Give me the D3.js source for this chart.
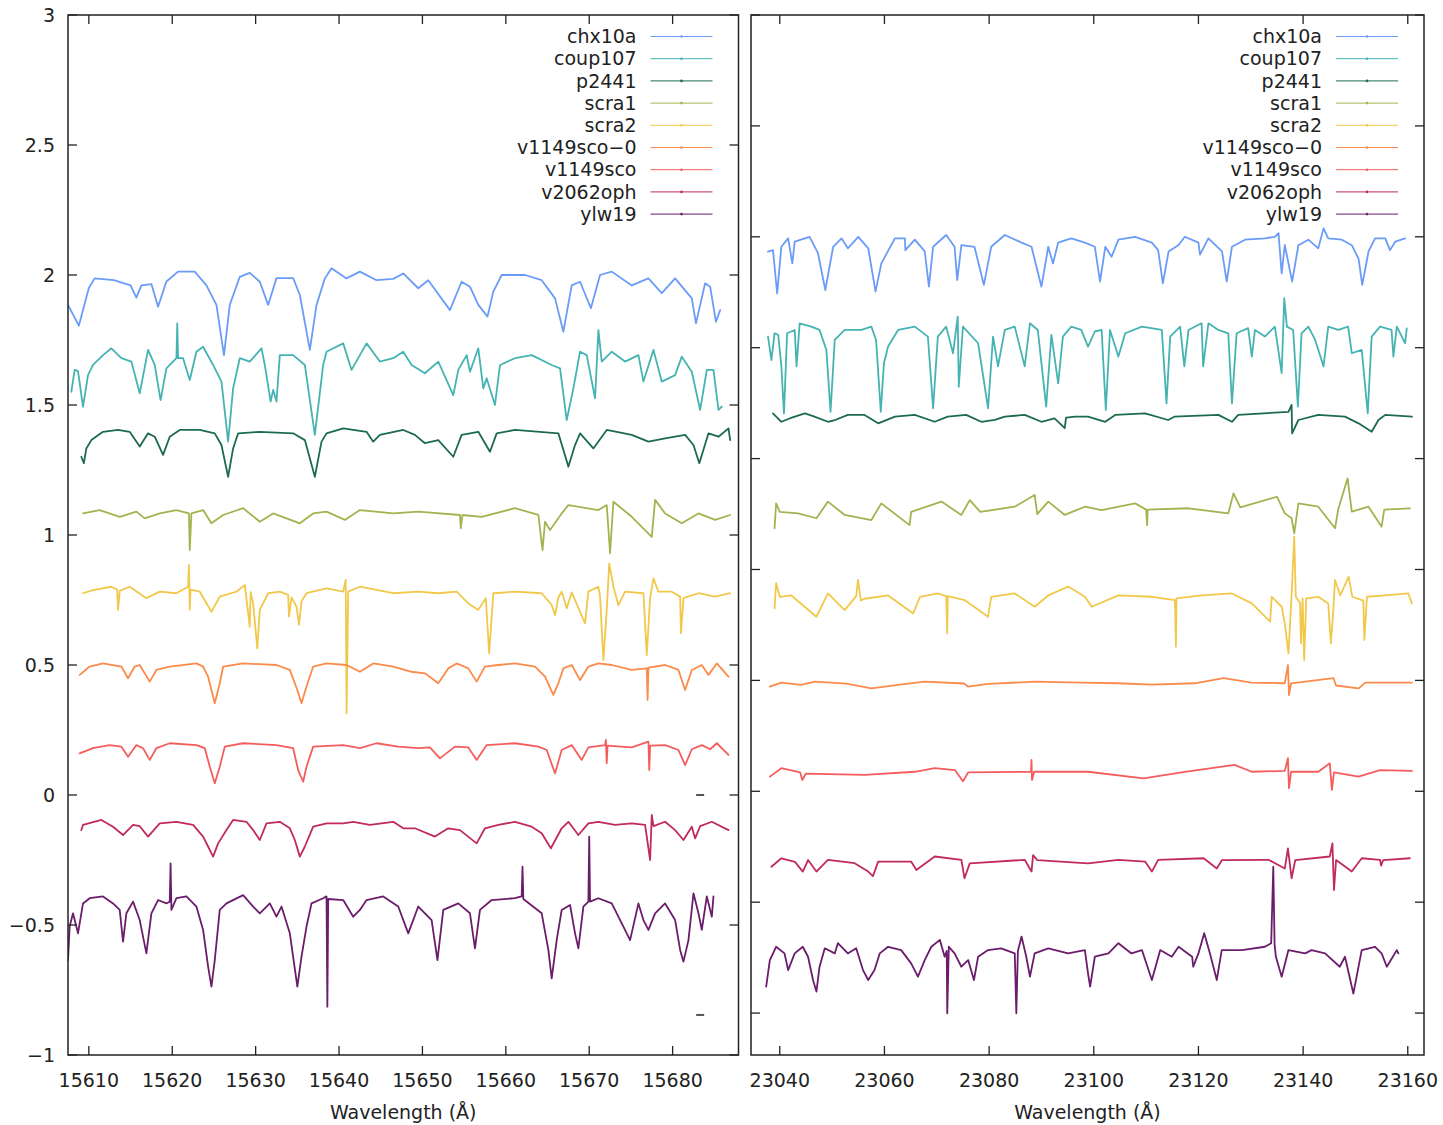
<!DOCTYPE html>
<html>
<head>
<meta charset="utf-8">
<script src="https://cdn.jsdelivr.net/npm/d3@7"></script>
<style>
  body { margin: 0; background: #fff; }
  text { font-family: "DejaVu Sans", sans-serif; fill: #222; }
</style>
</head>
<body>
<script>
(function () {
"use strict";

////////////////////////////////////////////////////////////////////////////////
// Data: normalized spectra with vertical offsets, [wavelength (A), flux]
////////////////////////////////////////////////////////////////////////////////

var starNames = ["chx10a", "coup107", "p2441", "scra1", "scra2",
                 "v1149sco-0", "v1149sco", "v2062oph", "ylw19"];

var starColors = ["#6a9cf7", "#46b3b3", "#1d6b4e", "#a0b550", "#f2c84b",
                  "#fb8b4a", "#f55d5d", "#c02a5c", "#6b1c6b"];

var leftXTicks = [15610, 15620, 15630, 15640, 15650, 15660, 15670, 15680];
var rightXTicks = [23040, 23060, 23080, 23100, 23120, 23140, 23160];
var leftYTicks = [-1, -0.5, 0, 0.5, 1, 1.5, 2, 2.5, 3];
var rightYTicks = [-1, -0.5, 0, 0.5, 1, 1.5, 2, 2.5, 3, 3.5];

// H band panel
var hChx10a = [[15607.5,1.885],[15608.8,1.805],[15610.0,1.95],[15610.7,1.987],[15613,1.98],[15615.0,1.96],[15615.7,1.913],[15616.3,1.96],[15617.5,1.965],[15618.3,1.878],[15619.3,1.975],[15620.7,2.013],[15622.7,2.013],[15624.1,1.96],[15625.3,1.885],[15626.2,1.692],[15626.9,1.885],[15628.1,1.993],[15629.3,2.008],[15630.5,1.974],[15631.5,1.885],[15632.5,1.988],[15634.5,1.988],[15635.3,1.923],[15636.5,1.712],[15637.3,1.885],[15638.3,1.987],[15639.1,2.026],[15640.9,1.987],[15642.5,2.013],[15644.5,1.98],[15646.5,1.985],[15647.7,2.006],[15649.5,1.949],[15650.7,1.98],[15653.3,1.865],[15654.7,1.974],[15655.7,1.955],[15656.7,1.885],[15657.8,1.84],[15658.5,1.936],[15659.5,2.0],[15662.3,2.0],[15664.3,1.98],[15665.9,1.91],[15666.9,1.782],[15667.9,1.96],[15668.9,1.974],[15670.2,1.872],[15671.3,2.0],[15672.7,2.013],[15675.1,1.96],[15677.1,1.987],[15678.7,1.93],[15680.3,1.987],[15682.3,1.91],[15682.8,1.814],[15683.9,1.968],[15684.5,1.955],[15685.2,1.82],[15685.7,1.865]];
var hCoup107 = [[15607.9,1.551],[15608.3,1.635],[15608.7,1.63],[15609.3,1.493],[15609.9,1.615],[15610.5,1.654],[15611.7,1.692],[15612.7,1.718],[15613.9,1.68],[15615.1,1.667],[15616.1,1.545],[15617.1,1.712],[15617.9,1.654],[15618.6,1.519],[15619.3,1.641],[15620.5,1.68],[15620.6,1.814],[15620.7,1.68],[15621.3,1.68],[15622.1,1.596],[15622.9,1.705],[15623.7,1.724],[15624.9,1.654],[15625.9,1.59],[15626.7,1.359],[15627.3,1.564],[15628.1,1.68],[15629.3,1.667],[15630.7,1.718],[15631.1,1.654],[15631.8,1.513],[15632.1,1.558],[15632.5,1.513],[15632.9,1.692],[15634.5,1.692],[15635.9,1.654],[15637.1,1.385],[15638.1,1.654],[15638.5,1.705],[15640.5,1.737],[15641.5,1.635],[15642.5,1.692],[15643.3,1.737],[15644.9,1.667],[15646.5,1.68],[15647.7,1.705],[15648.7,1.654],[15650.3,1.622],[15651.9,1.667],[15653.7,1.538],[15654.3,1.635],[15655.3,1.692],[15655.7,1.628],[15656.7,1.718],[15657.3,1.564],[15657.7,1.603],[15658.7,1.5],[15659.3,1.654],[15661.1,1.68],[15663.1,1.692],[15665.5,1.654],[15666.5,1.641],[15667.3,1.442],[15668.1,1.564],[15668.9,1.705],[15669.7,1.692],[15670.7,1.526],[15671.1,1.788],[15671.5,1.667],[15672.7,1.705],[15674.3,1.667],[15675.9,1.692],[15676.5,1.59],[15677.7,1.712],[15678.7,1.59],[15680.3,1.615],[15681.1,1.686],[15682.3,1.628],[15683.3,1.481],[15684.1,1.635],[15684.9,1.635],[15685.5,1.481],[15685.9,1.494]];
var hP2441 = [[15609.1,1.301],[15609.4,1.276],[15609.7,1.333],[15610.3,1.365],[15611.7,1.397],[15613.5,1.404],[15614.9,1.397],[15616.1,1.34],[15617.1,1.391],[15617.9,1.378],[15618.9,1.308],[15619.7,1.378],[15620.9,1.404],[15623.3,1.404],[15625.1,1.391],[15625.9,1.346],[15626.7,1.224],[15627.3,1.333],[15627.9,1.391],[15630.5,1.397],[15634.5,1.391],[15635.9,1.365],[15637.1,1.224],[15637.9,1.359],[15638.5,1.391],[15640.5,1.41],[15643.3,1.397],[15644.1,1.359],[15644.9,1.385],[15647.7,1.404],[15649.1,1.385],[15650.3,1.353],[15651.9,1.365],[15653.7,1.301],[15654.7,1.385],[15656.7,1.397],[15658.1,1.32],[15658.9,1.391],[15661.1,1.404],[15666.3,1.391],[15667.5,1.263],[15668.3,1.346],[15668.9,1.391],[15670.5,1.333],[15672.1,1.404],[15675.1,1.385],[15677.1,1.359],[15679.1,1.372],[15681.5,1.385],[15682.5,1.346],[15683.2,1.276],[15684.3,1.391],[15685.5,1.378],[15686.7,1.41],[15686.9,1.365]];
var hScra1 = [[15609.3,1.083],[15611.3,1.096],[15613.7,1.07],[15615.7,1.09],[15616.7,1.064],[15618.5,1.083],[15620.5,1.096],[15622.0,1.083],[15622.1,0.942],[15622.3,1.083],[15623.7,1.096],[15624.7,1.045],[15626.1,1.077],[15628.5,1.103],[15630.5,1.051],[15632.1,1.083],[15635.3,1.045],[15636.9,1.083],[15638.5,1.09],[15640.7,1.058],[15642.5,1.096],[15646.5,1.083],[15649.5,1.09],[15654.5,1.077],[15654.6,1.026],[15654.8,1.077],[15657.1,1.07],[15661.1,1.103],[15663.9,1.077],[15664.4,0.942],[15664.7,1.051],[15665.3,1.019],[15666.7,1.083],[15667.5,1.115],[15671.1,1.096],[15672.1,1.115],[15672.5,0.93],[15672.9,1.128],[15675.1,1.07],[15677.5,0.993],[15677.9,1.135],[15679.1,1.083],[15681.1,1.045],[15683.1,1.083],[15685.1,1.058],[15686.9,1.077]];
var hScra2 = [[15609.3,0.776],[15610.5,0.788],[15612.7,0.801],[15613.4,0.79],[15613.5,0.712],[15613.7,0.785],[15614.9,0.801],[15616.9,0.757],[15618.5,0.782],[15620.5,0.776],[15621.9,0.801],[15622.0,0.885],[15622.1,0.712],[15622.2,0.79],[15623.3,0.782],[15624.7,0.705],[15625.7,0.763],[15627.7,0.782],[15628.7,0.808],[15629.3,0.647],[15629.4,0.78],[15629.7,0.737],[15630.2,0.564],[15630.5,0.712],[15631.5,0.776],[15632.9,0.782],[15633.9,0.77],[15634.0,0.686],[15634.3,0.76],[15634.9,0.724],[15635.2,0.654],[15635.5,0.745],[15636.1,0.776],[15638.5,0.795],[15640.5,0.782],[15640.8,0.827],[15640.9,0.314],[15641.1,0.782],[15642.5,0.801],[15646.5,0.776],[15649.5,0.782],[15651.9,0.776],[15654.1,0.782],[15655.5,0.737],[15656.7,0.712],[15657.6,0.757],[15658.0,0.545],[15658.5,0.776],[15661.1,0.782],[15664.3,0.776],[15665.5,0.731],[15665.9,0.692],[15666.3,0.76],[15666.7,0.782],[15667.3,0.718],[15667.9,0.779],[15669.5,0.66],[15669.9,0.782],[15671.1,0.801],[15671.3,0.763],[15671.7,0.519],[15672.1,0.712],[15672.4,0.891],[15672.9,0.801],[15673.5,0.73],[15674.3,0.782],[15676.5,0.776],[15676.9,0.538],[15677.3,0.757],[15677.7,0.833],[15678.3,0.782],[15679.9,0.782],[15680.9,0.763],[15681.0,0.622],[15681.3,0.757],[15683.1,0.776],[15685.1,0.763],[15686.9,0.776]];
var hV1149sco0 = [[15608.9,0.462],[15610.1,0.494],[15611.7,0.506],[15613.9,0.494],[15614.7,0.449],[15615.5,0.494],[15616.1,0.5],[15617.3,0.436],[15618.1,0.481],[15619.7,0.494],[15622.9,0.506],[15623.7,0.494],[15624.3,0.455],[15624.7,0.404],[15625.1,0.353],[15625.7,0.43],[15626.1,0.494],[15628.5,0.506],[15632.5,0.5],[15634.1,0.481],[15635.0,0.404],[15635.5,0.353],[15636.1,0.417],[15636.9,0.494],[15638.5,0.506],[15640.9,0.5],[15642.5,0.474],[15644.1,0.506],[15646.5,0.494],[15648.7,0.474],[15650.3,0.468],[15651.9,0.43],[15653.1,0.487],[15654.1,0.506],[15655.5,0.487],[15656.5,0.436],[15657.5,0.494],[15659.1,0.5],[15661.1,0.506],[15663.5,0.494],[15664.7,0.455],[15665.7,0.385],[15666.3,0.43],[15666.9,0.487],[15667.9,0.5],[15668.9,0.442],[15669.9,0.494],[15671.1,0.506],[15672.7,0.5],[15675.1,0.481],[15676.9,0.487],[15677.0,0.365],[15677.1,0.49],[15679.1,0.5],[15680.7,0.481],[15681.5,0.404],[15682.3,0.481],[15683.5,0.5],[15684.3,0.462],[15685.3,0.506],[15686.7,0.455]];
var hV1149sco = [[15608.9,0.16],[15610.5,0.18],[15612.5,0.192],[15613.9,0.186],[15614.7,0.147],[15615.7,0.192],[15616.5,0.18],[15617.3,0.135],[15618.1,0.18],[15619.7,0.199],[15622.9,0.192],[15623.9,0.18],[15624.5,0.109],[15625.1,0.045],[15625.7,0.109],[15626.3,0.186],[15628.5,0.199],[15632.5,0.192],[15634.5,0.18],[15635.1,0.096],[15635.7,0.051],[15636.1,0.109],[15636.9,0.186],[15640.5,0.192],[15642.5,0.18],[15644.5,0.199],[15647.1,0.186],[15649.5,0.18],[15650.9,0.183],[15652.1,0.141],[15653.9,0.186],[15655.5,0.183],[15656.5,0.135],[15657.7,0.192],[15661.1,0.199],[15663.9,0.186],[15664.9,0.173],[15665.9,0.083],[15666.7,0.173],[15667.9,0.192],[15669.1,0.135],[15669.9,0.183],[15671.9,0.192],[15672.0,0.212],[15672.1,0.122],[15672.2,0.19],[15675.1,0.183],[15677.1,0.205],[15677.2,0.096],[15677.3,0.19],[15679.1,0.192],[15680.7,0.173],[15681.5,0.115],[15682.3,0.176],[15683.5,0.192],[15684.5,0.176],[15685.3,0.199],[15686.7,0.154]];
var hV2062oph = [[15609.1,-0.135],[15609.3,-0.115],[15611.5,-0.096],[15612.9,-0.122],[15614.1,-0.154],[15615.3,-0.115],[15616.1,-0.12],[15617.1,-0.16],[15618.5,-0.109],[15620.5,-0.103],[15622.5,-0.115],[15623.7,-0.16],[15624.3,-0.198],[15624.9,-0.237],[15625.5,-0.186],[15626.5,-0.135],[15627.3,-0.096],[15628.9,-0.103],[15629.7,-0.135],[15630.5,-0.173],[15631.3,-0.109],[15632.9,-0.103],[15634.1,-0.128],[15634.7,-0.173],[15635.3,-0.237],[15635.9,-0.198],[15636.9,-0.122],[15638.5,-0.109],[15640.5,-0.109],[15641.7,-0.103],[15643.7,-0.115],[15646.5,-0.103],[15647.7,-0.128],[15649.1,-0.128],[15651.5,-0.16],[15653.1,-0.128],[15654.5,-0.135],[15656.5,-0.186],[15657.5,-0.128],[15659.1,-0.115],[15661.1,-0.103],[15663.1,-0.122],[15664.3,-0.147],[15665.4,-0.205],[15666.7,-0.128],[15667.5,-0.103],[15668.7,-0.154],[15669.9,-0.109],[15671.1,-0.103],[15673.1,-0.115],[15675.1,-0.109],[15676.7,-0.115],[15677.3,-0.25],[15677.5,-0.077],[15677.7,-0.12],[15679.1,-0.103],[15680.3,-0.135],[15681.3,-0.173],[15682.3,-0.122],[15682.7,-0.167],[15683.3,-0.12],[15684.7,-0.103],[15686.7,-0.135]];
var hYlw19 = [[15607.5,-0.635],[15607.7,-0.506],[15608.1,-0.455],[15608.7,-0.532],[15609.3,-0.417],[15610.1,-0.397],[15611.7,-0.39],[15612.9,-0.417],[15613.7,-0.442],[15614.1,-0.564],[15614.5,-0.455],[15615.3,-0.41],[15616.1,-0.481],[15616.9,-0.609],[15617.5,-0.455],[15618.3,-0.404],[15619.3,-0.417],[15619.7,-0.41],[15619.8,-0.263],[15619.9,-0.442],[15620.5,-0.397],[15621.7,-0.39],[15622.9,-0.429],[15623.7,-0.519],[15624.3,-0.66],[15624.7,-0.737],[15625.1,-0.635],[15625.7,-0.442],[15626.5,-0.417],[15628.5,-0.385],[15629.7,-0.429],[15630.5,-0.455],[15631.7,-0.417],[15632.5,-0.468],[15633.1,-0.429],[15634.1,-0.532],[15635.0,-0.737],[15635.5,-0.622],[15636.1,-0.506],[15636.7,-0.417],[15638.1,-0.397],[15638.5,-0.39],[15638.6,-0.814],[15638.7,-0.4],[15640.5,-0.404],[15641.7,-0.468],[15642.5,-0.442],[15643.3,-0.404],[15645.3,-0.39],[15647.1,-0.429],[15648.3,-0.532],[15649.5,-0.429],[15651.1,-0.481],[15651.8,-0.635],[15652.5,-0.442],[15654.3,-0.417],[15655.7,-0.455],[15656.3,-0.59],[15656.9,-0.442],[15658.3,-0.404],[15661.1,-0.397],[15661.9,-0.39],[15662.0,-0.276],[15662.1,-0.4],[15664.3,-0.455],[15665.1,-0.596],[15665.5,-0.705],[15666.1,-0.558],[15666.7,-0.442],[15667.7,-0.423],[15668.3,-0.532],[15668.7,-0.59],[15669.3,-0.429],[15669.9,-0.41],[15670.0,-0.16],[15670.1,-0.41],[15671.1,-0.397],[15672.7,-0.417],[15673.9,-0.494],[15674.9,-0.558],[15675.9,-0.417],[15676.5,-0.481],[15677.1,-0.519],[15677.9,-0.455],[15679.1,-0.417],[15680.3,-0.481],[15680.9,-0.596],[15681.3,-0.641],[15681.9,-0.558],[15682.5,-0.378],[15683.1,-0.455],[15683.5,-0.519],[15684.1,-0.39],[15684.7,-0.468],[15684.9,-0.39]];

// K band panel
var kChx10a = [[23037.75,2.433],[23038.7,2.44],[23039.5,2.245],[23040.3,2.455],[23041.6,2.493],[23042.4,2.38],[23042.85,2.478],[23045.7,2.5],[23047.3,2.426],[23048.7,2.26],[23050.2,2.455],[23051.8,2.493],[23053.0,2.448],[23055.0,2.5],[23056.9,2.448],[23058.3,2.253],[23059.4,2.38],[23062.0,2.493],[23063.9,2.493],[23064.0,2.44],[23065.8,2.487],[23067.7,2.434],[23068.5,2.275],[23069.3,2.455],[23071.8,2.508],[23073.4,2.455],[23073.9,2.305],[23074.7,2.462],[23077.2,2.455],[23079.0,2.283],[23080.4,2.455],[23083.0,2.508],[23086.2,2.474],[23088.1,2.455],[23090.0,2.275],[23091.3,2.455],[23092.2,2.38],[23093.2,2.474],[23095.7,2.493],[23098.3,2.474],[23100.2,2.455],[23101.2,2.298],[23102.2,2.455],[23103.4,2.41],[23104.7,2.487],[23107.9,2.5],[23111.1,2.474],[23112.3,2.44],[23113.2,2.29],[23114.3,2.434],[23116.2,2.463],[23117.4,2.5],[23120.0,2.474],[23120.3,2.42],[23121.9,2.493],[23124.5,2.434],[23125.4,2.298],[23126.4,2.455],[23128.9,2.487],[23132.7,2.493],[23134.6,2.5],[23135.3,2.516],[23135.9,2.335],[23136.5,2.463],[23137.9,2.298],[23139.1,2.462],[23141.0,2.487],[23142.9,2.448],[23143.9,2.538],[23144.8,2.493],[23147.4,2.487],[23149.3,2.462],[23150.6,2.4],[23151.3,2.283],[23152.5,2.434],[23153.75,2.493],[23155.7,2.493],[23156.6,2.44],[23157.6,2.478],[23159.5,2.493]];
var kCoup107 = [[23037.75,2.05],[23038.4,1.944],[23039.0,2.065],[23039.7,2.058],[23040.3,1.916],[23040.8,1.704],[23041.4,2.065],[23042.85,2.08],[23043.2,1.916],[23043.8,2.11],[23046.0,2.095],[23047.6,2.08],[23048.9,1.99],[23049.7,1.711],[23050.5,2.035],[23052.4,2.08],[23055.6,2.08],[23057.5,2.095],[23058.4,2.035],[23059.3,1.711],[23059.9,1.93],[23060.7,2.005],[23062.6,2.08],[23065.8,2.095],[23068.3,2.05],[23069.3,1.727],[23070.2,2.05],[23071.8,2.095],[23073.1,1.975],[23074.0,2.14],[23074.2,1.824],[23075.0,2.095],[23077.9,2.02],[23079.8,1.727],[23080.75,2.05],[23081.7,1.916],[23083.0,2.08],[23084.9,2.095],[23086.8,1.916],[23087.8,2.11],[23089.3,2.08],[23090.9,1.734],[23091.9,2.058],[23093.2,1.839],[23094.1,2.05],[23095.7,2.095],[23097.6,2.08],[23098.9,2.005],[23100.2,2.073],[23101.5,2.08],[23102.3,1.719],[23103.1,2.08],[23104.7,1.96],[23106.0,2.065],[23109.2,2.095],[23113.0,2.08],[23113.9,1.749],[23114.6,2.05],[23116.5,2.095],[23117.3,1.916],[23118.1,2.08],[23120.6,2.11],[23120.9,1.916],[23121.9,2.11],[23123.8,2.08],[23125.7,2.065],[23126.4,1.749],[23127.3,2.065],[23129.5,2.088],[23130.2,1.96],[23130.8,2.08],[23132.7,2.05],[23134.6,2.095],[23135.9,1.885],[23136.4,2.223],[23136.9,2.095],[23138.1,2.08],[23139.0,1.734],[23139.7,2.065],[23141.0,2.095],[23142.3,2.035],[23143.9,1.916],[23144.8,2.095],[23146.7,2.08],[23148.6,2.095],[23149.3,1.975],[23151.2,1.99],[23152.35,1.704],[23153.1,2.05],[23154.7,2.095],[23156.9,2.08],[23157.25,1.96],[23157.9,2.095],[23159.5,2.02],[23159.8,2.087]];
var kP2441 = [[23038.7,1.704],[23040.3,1.666],[23042.0,1.682],[23044.8,1.704],[23046.5,1.69],[23049.2,1.666],[23050.7,1.675],[23053.0,1.697],[23056.2,1.697],[23058.8,1.659],[23062.0,1.689],[23065.8,1.697],[23069.6,1.666],[23072.1,1.689],[23075.6,1.697],[23078.5,1.666],[23081.1,1.675],[23083.0,1.689],[23086.8,1.697],[23090.0,1.666],[23092.5,1.681],[23094.45,1.637],[23094.7,1.685],[23096.4,1.689],[23098.9,1.689],[23102.2,1.666],[23104.1,1.697],[23109.8,1.704],[23114.2,1.674],[23115.4,1.689],[23123.8,1.697],[23126.4,1.666],[23127.6,1.697],[23137.2,1.711],[23137.8,1.742],[23137.9,1.614],[23139.1,1.674],[23142.9,1.697],[23148.0,1.689],[23150.6,1.659],[23153.1,1.621],[23154.4,1.674],[23155.7,1.697],[23160.8,1.689]];
var kScra1 = [[23039.0,1.186],[23039.3,1.298],[23040.0,1.26],[23043.5,1.253],[23047.0,1.231],[23049.2,1.306],[23052.4,1.246],[23057.5,1.223],[23059.4,1.298],[23064.8,1.2],[23065.1,1.26],[23070.9,1.306],[23074.7,1.246],[23076.3,1.313],[23078.3,1.26],[23084.9,1.283],[23088.7,1.336],[23089.2,1.25],[23091.3,1.306],[23094.45,1.246],[23098.3,1.283],[23101.5,1.268],[23107.9,1.298],[23110.0,1.27],[23110.2,1.2],[23110.3,1.27],[23118.1,1.276],[23125.7,1.253],[23126.7,1.343],[23128.0,1.28],[23135.0,1.328],[23136.5,1.253],[23137.8,1.231],[23138.3,1.163],[23139.1,1.298],[23142.9,1.283],[23146.1,1.186],[23146.7,1.27],[23148.5,1.411],[23149.3,1.261],[23152.5,1.283],[23155.0,1.193],[23155.5,1.27],[23160.4,1.276]];
var kScra2 = [[23039.0,0.825],[23039.3,0.938],[23040.0,0.877],[23042.2,0.883],[23047.0,0.787],[23049.2,0.892],[23052.4,0.817],[23054.6,0.88],[23054.95,0.953],[23055.5,0.86],[23056.2,0.868],[23060.7,0.883],[23065.5,0.802],[23066.8,0.877],[23070.2,0.892],[23071.8,0.88],[23072.0,0.712],[23072.1,0.88],[23075.3,0.862],[23079.8,0.787],[23080.4,0.877],[23084.9,0.892],[23088.7,0.832],[23091.3,0.883],[23095.1,0.923],[23098.3,0.877],[23099.6,0.832],[23104.7,0.883],[23111.1,0.877],[23115.5,0.862],[23115.7,0.652],[23115.8,0.87],[23120.6,0.883],[23126.4,0.892],[23130.2,0.847],[23133.7,0.765],[23134.0,0.877],[23135.9,0.832],[23136.5,0.757],[23137.2,0.622],[23137.8,0.883],[23138.3,1.148],[23138.6,0.877],[23139.4,0.85],[23139.6,0.667],[23139.9,0.87],[23140.2,0.592],[23140.6,0.87],[23142.9,0.877],[23144.8,0.847],[23145.3,0.667],[23145.7,0.79],[23146.1,0.953],[23147.1,0.883],[23148.7,0.968],[23149.4,0.877],[23151.5,0.86],[23151.7,0.682],[23152.2,0.877],[23155.7,0.883],[23160.1,0.892],[23160.8,0.847]];
var kV1149sco0 = [[23038.1,0.472],[23040.3,0.49],[23044.1,0.48],[23046.7,0.494],[23052.7,0.485],[23057.5,0.464],[23062.6,0.48],[23067.7,0.494],[23075.2,0.486],[23076.0,0.472],[23079.8,0.484],[23088.7,0.494],[23097.6,0.49],[23104.7,0.487],[23111.1,0.481],[23119.3,0.487],[23124.8,0.51],[23130.2,0.49],[23136.5,0.487],[23137.1,0.569],[23137.3,0.434],[23137.7,0.487],[23145.8,0.51],[23146.3,0.477],[23150.6,0.464],[23151.9,0.49],[23160.8,0.49]];
var kV1149sco = [[23038.1,0.066],[23040.3,0.104],[23043.9,0.085],[23044.3,0.051],[23045.0,0.08],[23056.2,0.074],[23065.8,0.088],[23069.6,0.104],[23073.5,0.095],[23075.0,0.045],[23076.0,0.085],[23088.0,0.088],[23088.1,0.141],[23088.2,0.051],[23088.6,0.088],[23098.9,0.088],[23109.5,0.058],[23117.4,0.088],[23126.9,0.119],[23130.2,0.088],[23136.5,0.092],[23137.1,0.149],[23137.3,0.014],[23137.7,0.088],[23142.9,0.088],[23145.1,0.126],[23145.5,0.006],[23145.9,0.085],[23150.6,0.066],[23154.7,0.095],[23160.8,0.092]];
var kV2062oph = [[23038.4,-0.34],[23040.3,-0.302],[23042.9,-0.318],[23044.4,-0.362],[23045.4,-0.31],[23047.0,-0.362],[23049.2,-0.309],[23054.3,-0.324],[23056.9,-0.362],[23057.8,-0.383],[23058.8,-0.317],[23065.1,-0.317],[23066.1,-0.355],[23069.6,-0.294],[23074.7,-0.309],[23075.3,-0.392],[23076.3,-0.325],[23086.8,-0.309],[23088.1,-0.362],[23088.4,-0.288],[23089.2,-0.31],[23098.9,-0.325],[23104.7,-0.309],[23109.8,-0.317],[23111.1,-0.362],[23112.3,-0.309],[23121.0,-0.302],[23123.5,-0.348],[23124.5,-0.31],[23133.4,-0.309],[23136.5,-0.348],[23137.1,-0.258],[23137.8,-0.392],[23138.5,-0.31],[23145.1,-0.294],[23145.6,-0.235],[23145.9,-0.445],[23146.3,-0.31],[23149.3,-0.362],[23151.2,-0.302],[23154.7,-0.309],[23154.9,-0.335],[23155.3,-0.31],[23160.4,-0.302]];
var kYlw19 = [[23037.4,-0.881],[23038.1,-0.761],[23039.3,-0.701],[23040.9,-0.731],[23041.6,-0.806],[23042.85,-0.731],[23044.4,-0.701],[23045.4,-0.746],[23046.35,-0.851],[23047.0,-0.903],[23047.6,-0.791],[23048.6,-0.708],[23050.5,-0.731],[23051.1,-0.685],[23053.0,-0.731],[23054.6,-0.708],[23055.9,-0.806],[23056.9,-0.851],[23058.1,-0.806],[23059.1,-0.731],[23060.7,-0.701],[23063.2,-0.716],[23065.1,-0.776],[23066.4,-0.836],[23067.7,-0.761],[23068.95,-0.701],[23070.6,-0.67],[23071.5,-0.746],[23071.9,-0.72],[23072.0,-1.001],[23072.3,-0.701],[23073.4,-0.731],[23074.7,-0.791],[23076.0,-0.761],[23077.1,-0.851],[23077.9,-0.746],[23079.8,-0.716],[23082.3,-0.708],[23084.9,-0.731],[23085.2,-1.001],[23085.5,-0.72],[23086.2,-0.655],[23087.1,-0.746],[23087.8,-0.836],[23088.7,-0.731],[23091.3,-0.708],[23095.1,-0.731],[23098.3,-0.716],[23098.9,-0.821],[23099.3,-0.881],[23100.2,-0.746],[23102.8,-0.731],[23104.7,-0.685],[23107.2,-0.731],[23109.2,-0.716],[23111.1,-0.851],[23112.7,-0.716],[23114.9,-0.746],[23116.2,-0.701],[23118.8,-0.746],[23119.0,-0.791],[23120.0,-0.731],[23121.1,-0.64],[23122.2,-0.731],[23123.5,-0.851],[23124.45,-0.716],[23128.3,-0.716],[23132.7,-0.701],[23133.9,-0.685],[23134.3,-0.34],[23134.55,-0.69],[23134.8,-0.746],[23135.9,-0.836],[23137.2,-0.716],[23140.4,-0.731],[23141.6,-0.716],[23144.2,-0.731],[23147.0,-0.791],[23148.0,-0.746],[23149.6,-0.912],[23151.2,-0.716],[23153.75,-0.701],[23155.0,-0.731],[23156.0,-0.791],[23157.9,-0.716],[23158.2,-0.731]];

// stray error-bar marks in the H panel
var hStrayMarks = [[15683.3, 0.0], [15683.3, -0.846]];

var hSeries = [hChx10a, hCoup107, hP2441, hScra1, hScra2, hV1149sco0, hV1149sco, hV2062oph, hYlw19];
var kSeries = [kChx10a, kCoup107, kP2441, kScra1, kScra2, kV1149sco0, kV1149sco, kV2062oph, kYlw19];

////////////////////////////////////////////////////////////////////////////////
// Layout
////////////////////////////////////////////////////////////////////////////////

var fullWidth = 1443,
    fullHeight = 1125;

var plotTop = 15,
    plotBottom = 1055,
    tickLen = 9,
    fontSize = 19;

var svg = d3.select("body").append("svg")
  .attr("width", fullWidth)
  .attr("height", fullHeight)
  .attr("viewBox", "0 0 " + fullWidth + " " + fullHeight);

svg.append("rect")
  .attr("width", fullWidth)
  .attr("height", fullHeight)
  .style("fill", "#fff");

function fmtTick(v) {
  return String(v).replace("-", "\u2212");
}

function drawPanel(p) {
  var xScale = d3.scaleLinear()
    .domain(p.xDomain)
    .range([p.left, p.right]);

  var yScale = d3.scaleLinear()
    .domain(p.yDomain)
    .range([plotBottom, plotTop]);

  var g = svg.append("g").attr("id", p.id + "-panel");

  g.append("clipPath")
      .attr("id", p.id + "-clip")
    .append("rect")
      .attr("x", p.left)
      .attr("y", plotTop)
      .attr("width", p.right - p.left)
      .attr("height", plotBottom - plotTop);

  var line = d3.line()
    .x(function(d) { return xScale(d[0]); })
    .y(function(d) { return yScale(d[1]); });

  // Spectra
  g.append("g")
      .attr("clip-path", "url(#" + p.id + "-clip)")
    .selectAll("path")
      .data(p.series)
    .enter()
      .append("path")
        .attr("d", function(d) { return line(d); })
        .style("fill", "none")
        .style("stroke", function(d, i) { return starColors[i]; })
        .style("stroke-width", 1.8)
        .style("stroke-linejoin", "round")
        .style("stroke-linecap", "round");

  // Stray marks
  if (p.marks) {
    g.selectAll(".stray")
      .data(p.marks)
    .enter()
      .append("line")
        .attr("x1", function(d) { return xScale(d[0]) - 4; })
        .attr("x2", function(d) { return xScale(d[0]) + 4; })
        .attr("y1", function(d) { return yScale(d[1]); })
        .attr("y2", function(d) { return yScale(d[1]); })
        .style("stroke", "#555")
        .style("stroke-width", 2);
  }

  // Ticks (mirrored, pointing inwards)
  var ticks = g.append("g").style("stroke", "#222").style("stroke-width", 1.3);

  p.xTicks.forEach(function(t) {
    var xp = xScale(t);
    ticks.append("line").attr("x1", xp).attr("x2", xp)
      .attr("y1", plotBottom).attr("y2", plotBottom - tickLen);
    ticks.append("line").attr("x1", xp).attr("x2", xp)
      .attr("y1", plotTop).attr("y2", plotTop + tickLen);
  });

  p.yTicks.forEach(function(t) {
    var yp = yScale(t);
    ticks.append("line").attr("x1", p.left).attr("x2", p.left + tickLen)
      .attr("y1", yp).attr("y2", yp);
    ticks.append("line").attr("x1", p.right).attr("x2", p.right - tickLen)
      .attr("y1", yp).attr("y2", yp);
  });

  // Frame
  g.append("rect")
    .attr("x", p.left)
    .attr("y", plotTop)
    .attr("width", p.right - p.left)
    .attr("height", plotBottom - plotTop)
    .style("fill", "none")
    .style("stroke", "#222")
    .style("stroke-width", 1.5);

  // Tick labels
  g.selectAll(".xlabel")
    .data(p.xTicks)
  .enter()
    .append("text")
      .attr("x", function(d) { return xScale(d); })
      .attr("y", 1080)
      .attr("dy", "0.35em")
      .style("text-anchor", "middle")
      .style("font-size", fontSize + "px")
      .text(function(d) { return d; });

  if (p.yLabels) {
    g.selectAll(".ylabel")
      .data(p.yTicks)
    .enter()
      .append("text")
        .attr("x", p.left - 13)
        .attr("y", function(d) { return yScale(d); })
        .attr("dy", "0.35em")
        .style("text-anchor", "end")
        .style("font-size", fontSize + "px")
        .text(function(d) { return fmtTick(d); });
  }

  g.append("text")
    .attr("x", (p.left + p.right) / 2)
    .attr("y", 1112)
    .attr("dy", "0.35em")
    .style("text-anchor", "middle")
    .style("font-size", fontSize + "px")
    .text("Wavelength (\u00c5)");

  // Legend
  var legend = g.append("g").attr("class", "legend");
  starNames.forEach(function(name, i) {
    var ly = plotTop + 21.5 + i * 22.2;
    legend.append("text")
      .attr("x", p.right - 102)
      .attr("y", ly)
      .attr("dy", "0.35em")
      .style("text-anchor", "end")
      .style("font-size", fontSize + "px")
      .text(name.replace("-", "\u2212"));
    legend.append("line")
      .attr("x1", p.right - 88)
      .attr("x2", p.right - 26)
      .attr("y1", ly)
      .attr("y2", ly)
      .style("stroke", starColors[i])
      .style("stroke-width", 1);
    legend.append("circle")
      .attr("cx", p.right - 57)
      .attr("cy", ly)
      .attr("r", 1.3)
      .style("fill", starColors[i]);
  });
}

drawPanel({
  id: "h",
  left: 68,
  right: 738.5,
  xDomain: [15607.5, 15687.9],
  yDomain: [-1, 3],
  xTicks: leftXTicks,
  yTicks: leftYTicks,
  yLabels: true,
  series: hSeries,
  marks: hStrayMarks
});

drawPanel({
  id: "k",
  left: 751,
  right: 1424,
  xDomain: [23034.5, 23163.1],
  yDomain: [-1.189, 3.5],
  xTicks: rightXTicks,
  yTicks: rightYTicks,
  yLabels: false,
  series: kSeries
});

})();
</script>
</body>
</html>
